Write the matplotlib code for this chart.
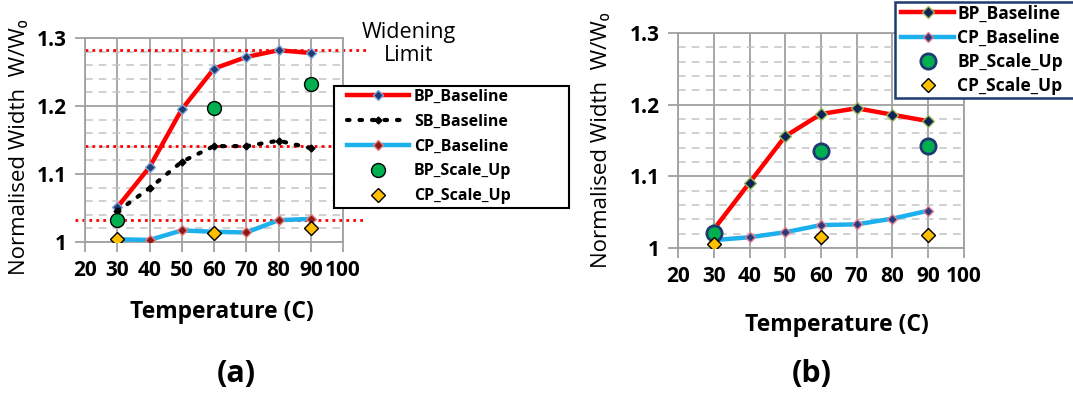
import matplotlib
matplotlib.use("Agg")
import matplotlib.pyplot as plt
from matplotlib.patches import Rectangle
from matplotlib.ticker import MultipleLocator, FixedLocator

plt.rcParams['font.family'] = ['Open Sans', 'DejaVu Sans']

# ---- data ----
temps = [30, 40, 50, 60, 70, 80, 90]
scale_temps = [30, 60, 90]

# panel (a)
bp_base_a = [1.051, 1.110, 1.195, 1.255, 1.272, 1.282, 1.278]
sb_base_a = [1.045, 1.079, 1.118, 1.141, 1.141, 1.149, 1.138]
cp_base_a = [1.004, 1.003, 1.017, 1.015, 1.014, 1.032, 1.034]
bp_scale_a = [1.032, 1.197, 1.233]
cp_scale_a = [1.005, 1.013, 1.020]
limit_levels = [1.282, 1.141, 1.032]
limit_spans = [(20, 108), (20, 104), (17, 106.5)]

# panel (b)
bp_base_b = [1.026, 1.091, 1.156, 1.187, 1.195, 1.186, 1.177]
cp_base_b = [1.011, 1.015, 1.022, 1.032, 1.033, 1.041, 1.052]
bp_scale_b = [1.021, 1.136, 1.142]
cp_scale_b = [1.005, 1.016, 1.018]

xticks = [20, 30, 40, 50, 60, 70, 80, 90, 100]
yticks = [1.0, 1.1, 1.2, 1.3]
ytick_labels = ["1", "1.1", "1.2", "1.3"]

RED = "#ff0000"
CYAN = "#1cb0ec"
GREEN = "#00b050"
ORANGE = "#ffc000"
NAVY = "#1f3a70"

W, H = 1073, 394


def style_axes(ax):
    ax.set_xlim(20, 100)
    ax.set_ylim(1.0, 1.3)
    ax.xaxis.set_major_locator(FixedLocator(xticks))
    ax.yaxis.set_major_locator(FixedLocator(yticks))
    ax.yaxis.set_minor_locator(MultipleLocator(0.02))
    ax.set_yticklabels(ytick_labels)
    ax.set_xticklabels([str(t) for t in xticks])
    ax.grid(which="major", color="#a0a0a0", lw=1.3, ls="-", zorder=0)
    ax.grid(which="minor", axis="y", color="#c4c4c4", lw=1.1, ls=(0, (5, 4)), zorder=0)
    for s in ax.spines.values():
        s.set_color("#a0a0a0")
        s.set_linewidth(1.3)
    ax.tick_params(which="major", length=7, width=1.3, color="#a0a0a0",
                   labelsize=15, pad=6)
    ax.tick_params(which="minor", length=0)
    for lab in ax.get_xticklabels() + ax.get_yticklabels():
        lab.set_fontweight("bold")
    ax.set_axisbelow(True)


def legend_box(ax, x0, y0, x1, y1, edge, lw, size, dx, **kw):
    # white box with frame in figure pixel coords (y from top), legend on top
    fig.add_artist(Rectangle((x0 / W, 1 - y1 / H), (x1 - x0) / W, (y1 - y0) / H,
                             transform=fig.transFigure, facecolor="white",
                             edgecolor=edge, lw=lw, zorder=8, clip_on=False))
    handles, labels = ax.get_legend_handles_labels()
    leg = fig.legend(handles, labels, loc="upper left",
                     bbox_to_anchor=((x0 + dx) / W, 1 - (y0 - 1) / H),
                     bbox_transform=fig.transFigure, frameon=False,
                     borderaxespad=0, prop={"weight": "bold", "size": size}, **kw)
    leg.set_zorder(11)
    return leg


fig = plt.figure(figsize=(10.73, 3.94), dpi=100)

# ---------------- (a) ----------------
ax1 = fig.add_axes([85 / W, 1 - 242 / H, 258 / W, 204 / H])
style_axes(ax1)

for lvl, (x0, x1) in zip(limit_levels, limit_spans):
    ax1.plot([x0, x1], [lvl, lvl], color=RED, lw=2, ls=(0, (1, 1.5)),
             clip_on=False, zorder=2)

ax1.plot(temps, bp_base_a, color=RED, lw=3.2, marker="D", ms=5,
         mfc="#1f3a70", mec="#7fa7d8", mew=1, label="BP_Baseline", zorder=4)
ax1.plot(temps, sb_base_a, color="black", lw=3, ls=(0, (0.6, 2.4)),
         dash_capstyle="round", marker="D", ms=3.5, mfc="black", mec="black",
         label="SB_Baseline", zorder=4)
ax1.plot(temps, cp_base_a, color=CYAN, lw=3.2, marker="D", ms=5,
         mfc="#8b1a1a", mec="#e58080", mew=1, label="CP_Baseline", zorder=4)
ax1.plot(scale_temps, bp_scale_a, ls="none", marker="o", ms=10, mfc=GREEN,
         mec="black", mew=1, label="BP_Scale_Up", zorder=5)
ax1.plot(scale_temps, cp_scale_a, ls="none", marker="D", ms=7.5, mfc=ORANGE,
         mec="black", mew=1, label="CP_Scale_Up", zorder=5)

legend_box(ax1, 334, 86, 569, 208, "black", 1.5, 11.5, 9,
           handlelength=3.9, handletextpad=0.3, labelspacing=0.55, borderpad=0.25)

fig.text(409 / W, 1 - 44 / H, "Widening\nLimit", ha="center", va="center",
         fontsize=15.5, linespacing=1.15)
fig.text(222 / W, 1 - 312 / H, "Temperature (C)", ha="center", va="center",
         fontsize=16.5, fontweight="bold")
fig.text(20 / W, 1 - 147 / H, "Normalised Width  W/W\u2080", ha="center",
         va="center", rotation=90, fontsize=16)
fig.text(236 / W, 1 - 374 / H, "(a)", ha="center", va="center",
         fontsize=22, fontweight="bold")

# ---------------- (b) ----------------
ax2 = fig.add_axes([678 / W, 1 - 248 / H, 286 / W, 215 / H])
style_axes(ax2)

ax2.plot(temps, bp_base_b, color=RED, lw=3.2, marker="D", ms=6.5,
         mfc="#0f2456", mec="#9bbb59", mew=1, label="BP_Baseline", zorder=4)
ax2.plot(temps, cp_base_b, color=CYAN, lw=3.2, marker="D", ms=5,
         mfc="#2a3a7a", mec="#e08090", mew=1, label="CP_Baseline", zorder=4)
ax2.plot(scale_temps, bp_scale_b, ls="none", marker="o", ms=11, mfc=GREEN,
         mec=NAVY, mew=2, label="BP_Scale_Up", zorder=5)
ax2.plot(scale_temps, cp_scale_b, ls="none", marker="D", ms=7.5, mfc=ORANGE,
         mec="black", mew=1, label="CP_Scale_Up", zorder=5)

legend_box(ax2, 895, 2, 1080, 98, NAVY, 1.8, 12.5, 3,
           handlelength=3.0, handletextpad=0.2, labelspacing=0.36, borderpad=0.2)

fig.text(837 / W, 1 - 325 / H, "Temperature (C)", ha="center", va="center",
         fontsize=16.5, fontweight="bold")
fig.text(602 / W, 1 - 140 / H, "Normalised Width  W/W\u2080", ha="center",
         va="center", rotation=90, fontsize=16)
fig.text(812 / W, 1 - 374 / H, "(b)", ha="center", va="center",
         fontsize=22, fontweight="bold")

fig.savefig("out.png", dpi=100)
